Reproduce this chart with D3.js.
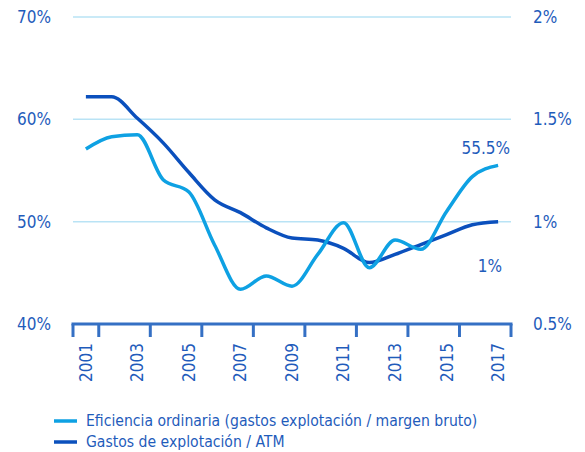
<!DOCTYPE html>
<html>
<head>
<meta charset="utf-8">
<script src="https://cdn.jsdelivr.net/npm/d3@7"></script>
<style>
  body { margin: 0; background: #fff; }
  text { font-family: "DejaVu Sans Condensed", "DejaVu Sans", sans-serif; }
</style>
</head>
<body>
<div id="chart"></div>
<script>
// data
const years = ["2001","2002","2003","2004","2005","2006","2007","2008","2009",
               "2010","2011","2012","2013","2014","2015","2016","2017"];
const eficiencia = [57.1, 58.3, 58.5, 54.1, 52.9, 47.7, 43.4, 44.7, 43.7,
                    46.8, 49.9, 45.5, 48.2, 47.3, 51.0, 54.4, 55.5];
const gastosATM = [1.61, 1.61, 1.505, 1.385, 1.24, 1.107, 1.044, 0.97, 0.92,
                   0.91, 0.87, 0.80, 0.84, 0.888, 0.937, 0.985, 1.0];
const leftTicks = [40, 50, 60, 70];
const rightTicks = [0.5, 1, 1.5, 2];
const legendNames = ["Eficiencia ordinaria (gastos explotación / margen bruto)",
                     "Gastos de explotación / ATM"];

const W = 585, H = 452;
const colLight = "#0ea1e3", colDark = "#0b50bd", textCol = "#1f5cbb";
const x0 = 73, x1 = 511, yTop = 17, yBot = 324;

const svg = d3.select("#chart").append("svg")
    .attr("width", W).attr("height", H);

const x = d3.scaleBand().domain(years).range([x0, x1]);
const yL = d3.scaleLinear().domain([40, 70]).range([yBot, yTop]);
const yR = d3.scaleLinear().domain([0.5, 2]).range([yBot, yTop]);

// grid
svg.append("g").selectAll("line")
    .data(leftTicks.filter(d => d > 40))
    .enter().append("line")
    .attr("x1", x0).attr("x2", x1)
    .attr("y1", d => yL(d)).attr("y2", d => yL(d))
    .attr("stroke", "#b9e3f5").attr("stroke-width", 1.5);

// left axis labels
svg.append("g").selectAll("text")
    .data(leftTicks).enter().append("text")
    .attr("x", 51).attr("y", d => yL(d)).attr("dy", "0.35em")
    .attr("text-anchor", "end")
    .attr("fill", textCol).attr("font-size", 17)
    .text(d => d + "%");

// right axis labels
svg.append("g").selectAll("text")
    .data(rightTicks).enter().append("text")
    .attr("x", 533).attr("y", d => yR(d)).attr("dy", "0.35em")
    .attr("fill", textCol).attr("font-size", 17)
    .text(d => d + "%");

// bottom axis
const xAxis = svg.append("g");
xAxis.append("line")
    .attr("x1", x0 - 1.5).attr("x2", x1 + 1.5)
    .attr("y1", yBot).attr("y2", yBot)
    .attr("stroke", "#3570c4").attr("stroke-width", 3);
const tickPos = [x0].concat(years.filter((d, i) => i % 2 === 0).map(d => x(d) + x.bandwidth()));
xAxis.selectAll(".tk").data(tickPos).enter().append("line")
    .attr("x1", d => d).attr("x2", d => d)
    .attr("y1", yBot).attr("y2", yBot + 13)
    .attr("stroke", "#3570c4").attr("stroke-width", 3);
xAxis.selectAll("text").data(years.filter((d, i) => i % 2 === 0))
    .enter().append("text")
    .attr("transform", d => "translate(" + (x(d) + x.bandwidth() / 2) + "," + 343 + ") rotate(-90)")
    .attr("text-anchor", "end").attr("dy", "0.35em")
    .attr("fill", textCol).attr("font-size", 17)
    .text(d => d);

// lines
const cx = d => x(d) + x.bandwidth() / 2;
const lineL = d3.line().x((d, i) => cx(years[i])).y(d => yL(d)).curve(d3.curveMonotoneX);
const lineR = d3.line().x((d, i) => cx(years[i])).y(d => yR(d)).curve(d3.curveMonotoneX);

svg.append("path").datum(gastosATM)
    .attr("d", lineR).attr("fill", "none")
    .attr("stroke", colDark).attr("stroke-width", 3.5);
svg.append("path").datum(eficiencia)
    .attr("d", lineL).attr("fill", "none")
    .attr("stroke", colLight).attr("stroke-width", 3.5);

// end labels
const last = years.length - 1;
svg.append("text")
    .attr("x", cx(years[last]) + 12).attr("y", yL(eficiencia[last]) - 11)
    .attr("text-anchor", "end").attr("fill", textCol).attr("font-size", 17)
    .text(eficiencia[last] + "%");
svg.append("text")
    .attr("x", cx(years[last]) + 4).attr("y", yR(gastosATM[last]) + 50)
    .attr("text-anchor", "end").attr("fill", textCol).attr("font-size", 17)
    .text(gastosATM[last] + "%");

// legend
const leg = svg.append("g").attr("transform", "translate(54,421)");
[colLight, colDark].forEach((c, i) => {
    leg.append("line").attr("x1", 0).attr("x2", 23)
        .attr("y1", i * 21).attr("y2", i * 21)
        .attr("stroke", c).attr("stroke-width", 3.5);
    leg.append("text").attr("x", 32).attr("y", i * 21).attr("dy", "0.35em")
        .attr("fill", textCol).attr("font-size", 15.6)
        .text(legendNames[i]);
});
</script>
</body>
</html>
